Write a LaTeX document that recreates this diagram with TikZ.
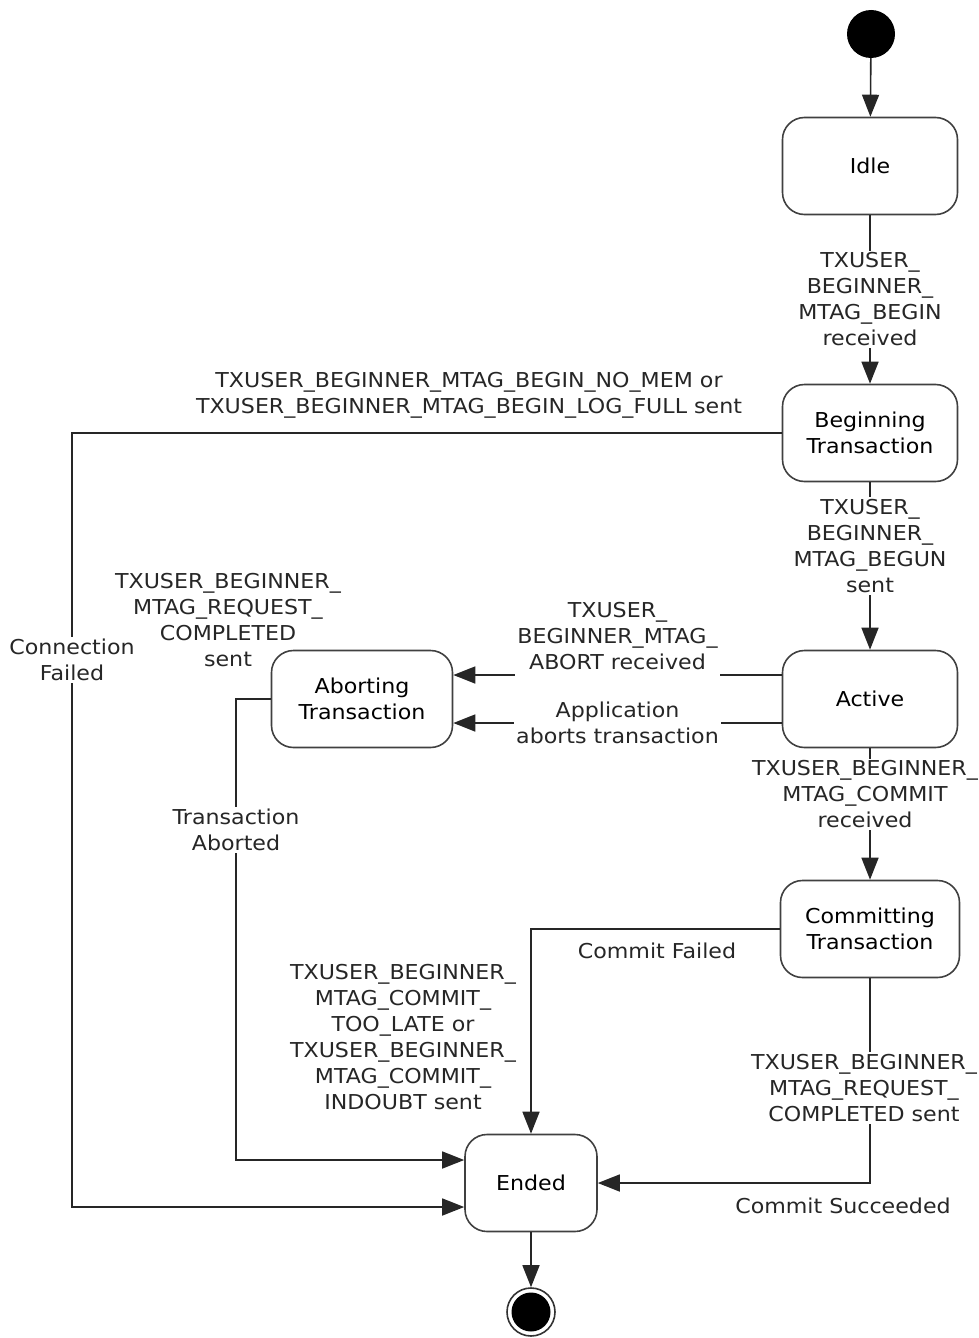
\documentclass[tikz,border=0pt]{standalone}
\usepackage{fontspec}
\setmainfont{DejaVu Sans}[FakeStretch=1.08]
\usetikzlibrary{arrows.meta,positioning}

\tikzset{
  state/.style={draw=black!75, line width=1.6pt, rounded corners=22pt,
    minimum width=175pt, minimum height=97pt, align=center, fill=white},
  trans/.style={draw=black!85, line width=1.6pt,
    -{Triangle[length=22pt,width=17pt]}},
  lbl/.style={align=center, fill=white, inner sep=2pt, text=black!85},
  note/.style={align=center, inner sep=2pt, text=black!85},
}

\begin{document}
\begin{tikzpicture}[x=1pt, y=1pt, font=\fontsize{20.5}{26}\selectfont]
  \useasboundingbox (0,0) rectangle (978,-1338);

  % states
  \node[circle, fill=black, minimum size=48pt, inner sep=0pt] (start) at (871,-34) {};
  \node[state] (idle)   at (870,-166)  {Idle};
  \node[state] (begin)  at (870,-433)  {Beginning\\Transaction};
  \node[state] (active) at (870,-699)  {Active};
  \node[state, minimum width=179pt] (commit) at (870,-929) {Committing\\Transaction};
  \node[state, minimum width=181pt] (abort)  at (362,-699) {Aborting\\Transaction};
  \node[state, minimum width=132pt] (ended)  at (531,-1183) {Ended};
  \node[circle, draw=black!80, line width=1.6pt, minimum size=48pt, inner sep=0pt] (stop) at (531,-1312) {};
  \fill (stop) circle (19.5pt);

  \coordinate (cf) at (72,-1207);
  \coordinate (ta) at (236,-1160);

  % transitions
  \draw[trans] (start) -- (idle);
  \draw[trans] (idle) -- node[lbl] {TXUSER\_\\BEGINNER\_\\MTAG\_BEGIN\\received} (begin);
  \draw[trans] (begin) -- node[lbl, pos=0.38] {TXUSER\_\\BEGINNER\_\\MTAG\_BEGUN\\sent} (active);
  \draw[trans] (active) -- node[lbl, pos=0.35, xshift=-5pt] {TXUSER\_BEGINNER\_\\MTAG\_COMMIT\\received} (commit);

  \draw[trans] (begin.west) -| (cf) -- ([yshift=-24pt]ended.west);
  \node[note, anchor=south] at (469,-421) {TXUSER\_BEGINNER\_MTAG\_BEGIN\_NO\_MEM or\\TXUSER\_BEGINNER\_MTAG\_BEGIN\_LOG\_FULL sent};
  \node[lbl] at (72,-660) {Connection\\Failed};

  \draw[trans] ([yshift=24pt]active.west) -- node[lbl, anchor=south, inner ysep=8pt, yshift=-4pt] {TXUSER\_\\BEGINNER\_MTAG\_\\ABORT received} ([yshift=24pt]abort.east);
  \draw[trans] ([yshift=-24pt]active.west) -- node[lbl] {Application\\aborts transaction} ([yshift=-24pt]abort.east);

  \draw[trans] (abort.west) -| (ta) -- ([yshift=23pt]ended.west);
  \node[lbl] at (236,-830) {Transaction\\Aborted};
  \node[note] at (228,-620) {TXUSER\_BEGINNER\_\\MTAG\_REQUEST\_\\COMPLETED\\sent};

  \draw[trans] (commit.west) -| (ended.north);
  \node[note] at (657,-951) {Commit Failed};
  \node[note] at (403,-1037) {TXUSER\_BEGINNER\_\\MTAG\_COMMIT\_\\TOO\_LATE or\\TXUSER\_BEGINNER\_\\MTAG\_COMMIT\_\\INDOUBT sent};

  \draw[trans] (commit.south) |- (ended.east);
  \node[lbl] at (864,-1088) {TXUSER\_BEGINNER\_\\MTAG\_REQUEST\_\\COMPLETED sent};
  \node[note] at (843,-1206) {Commit Succeeded};

  \draw[trans] (ended) -- (stop);
\end{tikzpicture}
\end{document}
